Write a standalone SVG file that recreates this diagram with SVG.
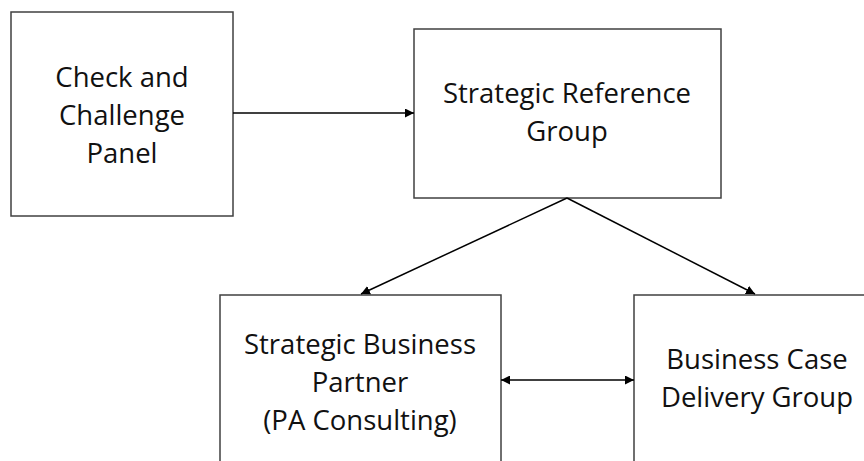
<svg xmlns="http://www.w3.org/2000/svg" width="864" height="461" viewBox="0 0 864 461">
<style>
.box{fill:#fff;stroke:#404040;stroke-width:1.5}
.t{font-family:"Open Sans","Liberation Sans",sans-serif;font-size:27.5px;fill:#111;text-anchor:middle}
.c{stroke:#000;stroke-width:1.5;fill:none}
</style>
<defs>
<marker id="ah" viewBox="0 0 10 10" refX="10" refY="5" markerWidth="9" markerHeight="9" markerUnits="userSpaceOnUse" orient="auto-start-reverse">
<path d="M0,0 L10,5 L0,10 z" fill="#000"/>
</marker>
</defs>
<rect width="864" height="461" fill="#fff"/>
<g id="check-challenge">
<rect class="box" x="11" y="12" width="222" height="204"/>
<text class="t" x="122" y="87">Check and</text>
<text class="t" x="122" y="125">Challenge</text>
<text class="t" x="122" y="163">Panel</text>
</g>
<g id="strategic-reference">
<rect class="box" x="414" y="29" width="307" height="169"/>
<text class="t" x="567" y="103">Strategic Reference</text>
<text class="t" x="567" y="141">Group</text>
</g>
<g id="strategic-business-partner">
<rect class="box" x="220" y="295" width="281" height="180"/>
<text class="t" x="360" y="354">Strategic Business</text>
<text class="t" x="360" y="392">Partner</text>
<text class="t" x="360" y="430">(PA Consulting)</text>
</g>
<g id="business-case-delivery">
<rect class="box" x="634" y="295" width="250" height="180"/>
<text class="t" x="757" y="369">Business Case</text>
<text class="t" x="757" y="407">Delivery Group</text>
</g>
<g id="connectors">
<line class="c" x1="233" y1="113" x2="414" y2="113" marker-end="url(#ah)"/>
<line class="c" x1="567" y1="198" x2="361" y2="294" marker-end="url(#ah)"/>
<line class="c" x1="567" y1="198" x2="755" y2="294" marker-end="url(#ah)"/>
<line class="c" x1="501" y1="380" x2="634" y2="380" marker-start="url(#ah)" marker-end="url(#ah)"/>
</g>
</svg>
